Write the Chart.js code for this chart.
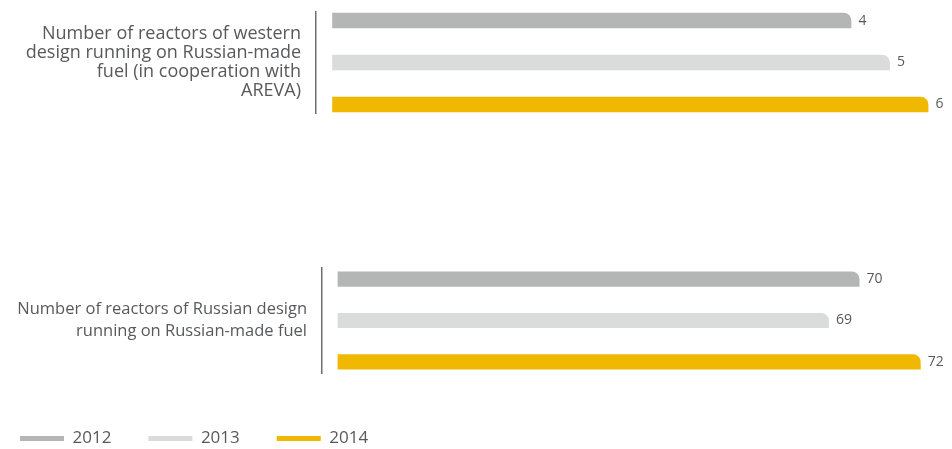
<!DOCTYPE html>
<html>
<head>
<meta charset="utf-8">
<script src="https://cdn.jsdelivr.net/npm/chart.js@4.4.1/dist/chart.umd.min.js"></script>
<style>
  html, body { margin: 0; padding: 0; background: #fff; overflow: hidden; }
  body { position: relative; width: 952px; height: 449px; }
  #western-chart { position: absolute; left: 0; top: 0; }
  #russian-chart { position: absolute; left: -17px; top: 258px; }
</style>
</head>
<body>
<canvas id="western-chart" width="952" height="125"></canvas>
<canvas id="russian-chart" width="969" height="199"></canvas>
<script>
const years = ['2012', '2013', '2014'];
const yearColors = ['#b4b5b5', '#dadbdb', '#f0b900'];

const westernLabel = ['Number of reactors of western', 'design running on Russian-made', 'fuel (in cooperation with', 'AREVA)'];
const westernValues = [4, 5, 6];

const russianLabel = ['Number of reactors of Russian design', 'running on Russian-made fuel'];
const russianValues = [70, 69, 72];

const textColor = '#58595b';
const fontFamily = "'Open Sans', 'Noto Sans', sans-serif";

// value printed just after the end of each bar
const valueLabels = {
    id: 'valueLabels',
    afterDatasetsDraw(chart) {
        const ctx = chart.ctx;
        ctx.save();
        ctx.font = `14px ${fontFamily}`;
        ctx.fillStyle = textColor;
        ctx.textAlign = 'left';
        ctx.textBaseline = 'middle';
        chart.data.datasets.forEach((ds, i) => {
            chart.getDatasetMeta(i).data.forEach((bar, j) => {
                ctx.fillText(ds.data[j], bar.x + 7, bar.y);
            });
        });
        ctx.restore();
    }
};

function makeDatasets(values, base) {
    return years.map((year, i) => ({
        label: year,
        data: [values[i]],
        base: base,
        backgroundColor: yearColors[i],
        borderColor: yearColors[i],
        borderWidth: 0,
        borderRadius: { topLeft: 0, topRight: 8, bottomLeft: 0, bottomRight: 0 },
        borderSkipped: 'start'
    }));
}

function makeChart(canvasId, groupLabel, values, opts) {
    const ctx = document.getElementById(canvasId).getContext('2d');
    return new Chart(ctx, {
        type: 'bar',
        data: {
            labels: [groupLabel],
            datasets: makeDatasets(values, opts.base)
        },
        options: {
            indexAxis: 'y',
            responsive: false,
            animation: false,
            categoryPercentage: opts.categoryPercentage,
            barPercentage: opts.barPercentage,
            layout: { padding: { top: opts.padTop, bottom: opts.padBottom, left: 0, right: 12 } },
            scales: {
                x: {
                    min: opts.min,
                    max: opts.max,
                    display: opts.showLegend,
                    grid: { display: false },
                    border: { display: false },
                    ticks: { display: false },
                    afterFit: function(scale) {
                        if (scale.options.display) scale.height = 20;
                    }
                },
                y: {
                    grid: { display: false, drawTicks: false },
                    border: { display: true, color: '#6d6e71', width: 1.5 },
                    ticks: {
                        color: textColor,
                        padding: 15,
                        font: { family: fontFamily, size: opts.labelSize, lineHeight: opts.labelLineHeight }
                    },
                    afterFit: function(scale) {
                        scale.width = opts.axisWidth;
                        scale.paddingTop = 0;
                        scale.paddingBottom = 0;
                    }
                }
            },
            plugins: {
                tooltip: { enabled: false },
                legend: {
                    display: opts.showLegend,
                    position: 'bottom',
                    align: 'start',
                    labels: {
                        usePointStyle: true,
                        pointStyle: 'line',
                        pointStyleWidth: 44,
                        padding: 37,
                        color: textColor,
                        font: { family: fontFamily, size: 17 },
                        generateLabels: function(chart) {
                            const items = Chart.defaults.plugins.legend.labels.generateLabels(chart);
                            items.forEach(item => { item.lineWidth = 5; });
                            return items;
                        }
                    }
                }
            }
        },
        plugins: [valueLabels]
    });
}

makeChart('western-chart', westernLabel, westernValues, {
    min: -9.9, max: 6.3, base: -9.48,
    categoryPercentage: 1.247, barPercentage: 0.367,
    padTop: 12, padBottom: 12, axisWidth: 316, showLegend: false,
    labelSize: 18, labelLineHeight: 1.05
});

makeChart('russian-chart', russianLabel, russianValues, {
    min: 52.44, max: 72.63, base: 52.95,
    categoryPercentage: 1.183, barPercentage: 0.366,
    padTop: 10, padBottom: 0, axisWidth: 339, showLegend: true,
    labelSize: 16.5, labelLineHeight: 1.3
});
</script>
</body>
</html>
